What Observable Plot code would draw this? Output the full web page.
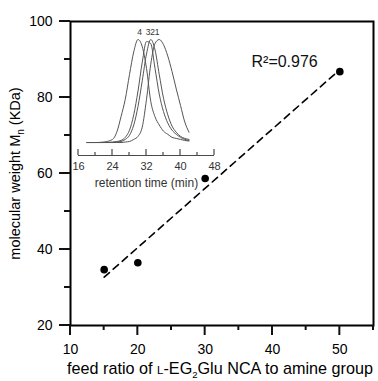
<!DOCTYPE html>
<html>
<head>
<meta charset="utf-8">
<script src="https://cdn.jsdelivr.net/npm/d3@7"></script>
<script src="https://cdn.jsdelivr.net/npm/@observablehq/plot@0.6"></script>
<style>
  body { margin: 0; background: #fff; }
  #wrap { position: relative; width: 378px; height: 381px; font-family: "Liberation Sans", Arial, sans-serif; }
  #inset { position: absolute; left: 60px; top: 20px; }
  svg { overflow: visible; }
</style>
</head>
<body>
<div id="wrap"><div id="main"></div><div id="inset"></div></div>
<script>
// ---- main scatter data ----
const feedRatio = [15, 20, 30, 50];
const molWeight = [34.7, 36.5, 58.7, 86.8];
const xMajorTicks = [10, 20, 30, 40, 50];
const xMinorTicks = [15, 25, 35, 45, 55];
const yMajorTicks = [20, 40, 60, 80, 100];
const yMinorTicks = [30, 50, 70, 90];
const r2Label = "R\u00B2=0.976";
const r2Pos = [41.8, 89.3];
const xLabel = "feed ratio of L-EG2Glu NCA to amine group";
const yLabel = "molecular weight Mn (KDa)";

// ---- inset GPC traces (normalized intensity) ----
const retentionTime = [18, 20, 22, 24, 25, 26, 27, 28, 29, 30, 31, 32, 33, 34, 35, 36, 37, 38, 39, 40, 41, 42];
const trace1 = [0, 0, 0, 0, 0, 0, 0.005, 0.01, 0.03, 0.06, 0.15, 0.42, 0.76, 0.96, 1.0, 0.95, 0.84, 0.69, 0.52, 0.36, 0.2, 0.1];
const trace2 = [0, 0, 0, 0, 0.005, 0.01, 0.03, 0.07, 0.17, 0.35, 0.6, 0.86, 1.0, 0.9, 0.66, 0.43, 0.27, 0.16, 0.1, 0.06, 0.04, 0.03];
const trace3 = [0, 0, 0, 0.005, 0.01, 0.02, 0.05, 0.12, 0.27, 0.5, 0.78, 0.98, 0.96, 0.72, 0.47, 0.3, 0.19, 0.12, 0.08, 0.05, 0.03, 0.02];
const trace4 = [0, 0, 0.005, 0.03, 0.1, 0.25, 0.42, 0.66, 0.88, 1.0, 0.93, 0.72, 0.4, 0.25, 0.17, 0.11, 0.08, 0.05, 0.04, 0.03, 0.02, 0.015];
const traceNames = ["1", "2", "3", "4"];
const peakLabelTime = [34.5, 33.45, 32.35, 30.35];
const insetTicks = [16, 24, 32, 40, 48];
const insetMinorTicks = [20, 28, 36, 44];
const insetLabel = "retention time (min)";

const font = '"Liberation Sans", Arial, sans-serif';
const tickColor = "#111";
const insetTickColor = "#4a4a4a";
const points = feedRatio.map((x, i) => ({x, y: molWeight[i]}));

const main = Plot.plot({
  width: 378, height: 381,
  marginTop: 21, marginRight: 5, marginBottom: 56, marginLeft: 70,
  style: {fontFamily: font, color: "#000", background: "transparent"},
  x: {domain: [10, 55], axis: null},
  y: {domain: [20, 100], axis: null},
  marks: [
    Plot.frame({stroke: "#000", strokeWidth: 2}),
    // outward ticks drawn as thin rects anchored on the axes
    Plot.rect(yMajorTicks, {x1: 10, x2: 10, y1: d => d, y2: d => d, insetLeft: -11, insetTop: -1, insetBottom: -1, fill: tickColor}),
    Plot.rect(yMinorTicks, {x1: 10, x2: 10, y1: d => d, y2: d => d, insetLeft: -6, insetTop: -1, insetBottom: -1, fill: tickColor}),
    Plot.rect(xMajorTicks, {x1: d => d, x2: d => d, y1: 20, y2: 20, insetBottom: -10, insetLeft: -1, insetRight: -1, fill: tickColor}),
    Plot.rect(xMinorTicks, {x1: d => d, x2: d => d, y1: 20, y2: 20, insetBottom: -5, insetLeft: -1, insetRight: -1, fill: tickColor}),
    // tick labels
    Plot.axisY({ticks: yMajorTicks, tickSize: 0, tickPadding: 18, fontSize: 14, label: null, tickFormat: d => d}),
    Plot.axisX({ticks: xMajorTicks, tickSize: 0, tickPadding: 19, fontSize: 14, label: null, tickFormat: d => d}),
    Plot.linearRegressionY(points, {x: "x", y: "y", ci: 0, stroke: "#000", strokeWidth: 1.6, strokeDasharray: "7,5"}),
    Plot.dot(points, {x: "x", y: "y", r: 3.8, fill: "#000", stroke: null}),
    Plot.text([r2Label], {x: r2Pos[0], y: r2Pos[1], text: d => d, fontSize: 16, fill: "#111"}),
    Plot.text([xLabel], {frameAnchor: "bottom", dy: 43, dx: -2, textAnchor: "middle", lineAnchor: "middle", text: d => d, fontSize: 16.2, fill: "#000"}),
    Plot.text([yLabel], {frameAnchor: "left", dx: -55, rotate: -90, textAnchor: "middle", lineAnchor: "middle", text: d => d, fontSize: 14.5, fill: "#000"})
  ]
});
document.getElementById("main").appendChild(main);

// rich text for labels (small-caps L, subscripts)
d3.select(main).selectAll("text").each(function() {
  const t = this.textContent;
  if (t === xLabel) {
    this.innerHTML = 'feed ratio of <tspan font-size="11.5">L</tspan>-EG<tspan font-size="9.5" dy="4">2</tspan><tspan dy="-4">Glu NCA to amine group</tspan>';
  } else if (t === yLabel) {
    this.innerHTML = 'molecular weight M<tspan font-size="10" dy="4">n</tspan><tspan dy="-4"> (KDa)</tspan>';
  }
});

const traces = [trace1, trace2, trace3, trace4];
const traceData = traces.flatMap((tr, k) => tr.map((v, i) => ({t: retentionTime[i], v, s: traceNames[k]})));
const peakLabels = traceNames.map((s, k) => ({t: peakLabelTime[k], s}));
const insetBase = -0.126;

const inset = Plot.plot({
  width: 170, height: 175,
  marginTop: 19, marginBottom: 40, marginLeft: 18, marginRight: 16,
  style: {fontFamily: font, color: "#444", background: "transparent"},
  x: {domain: [16, 48], axis: null},
  y: {domain: [insetBase, 1], axis: null},
  marks: [
    Plot.ruleY([insetBase], {stroke: insetTickColor, strokeWidth: 1.2}),
    Plot.rect(insetTicks, {x1: d => d, x2: d => d, y1: insetBase, y2: insetBase, insetTop: -6, insetLeft: -0.6, insetRight: -0.6, fill: insetTickColor}),
    Plot.rect(insetMinorTicks, {x1: d => d, x2: d => d, y1: insetBase, y2: insetBase, insetTop: -3, insetLeft: -0.6, insetRight: -0.6, fill: insetTickColor}),
    Plot.axisX({ticks: insetTicks, tickSize: 0, tickPadding: 7, fontSize: 11, fill: "#333", label: null, tickFormat: d => d}),
    Plot.line(traceData, {x: "t", y: "v", z: "s", stroke: "#555", strokeWidth: 1, curve: "monotone-x"}),
    Plot.text(peakLabels, {x: "t", y: 1.07, text: "s", fontSize: 8.5, fill: "#333"}),
    Plot.text([insetLabel], {frameAnchor: "bottom", dy: 28, lineAnchor: "middle", text: d => d, fontSize: 12, fill: "#333"})
  ]
});
document.getElementById("inset").appendChild(inset);
</script>
</body>
</html>
